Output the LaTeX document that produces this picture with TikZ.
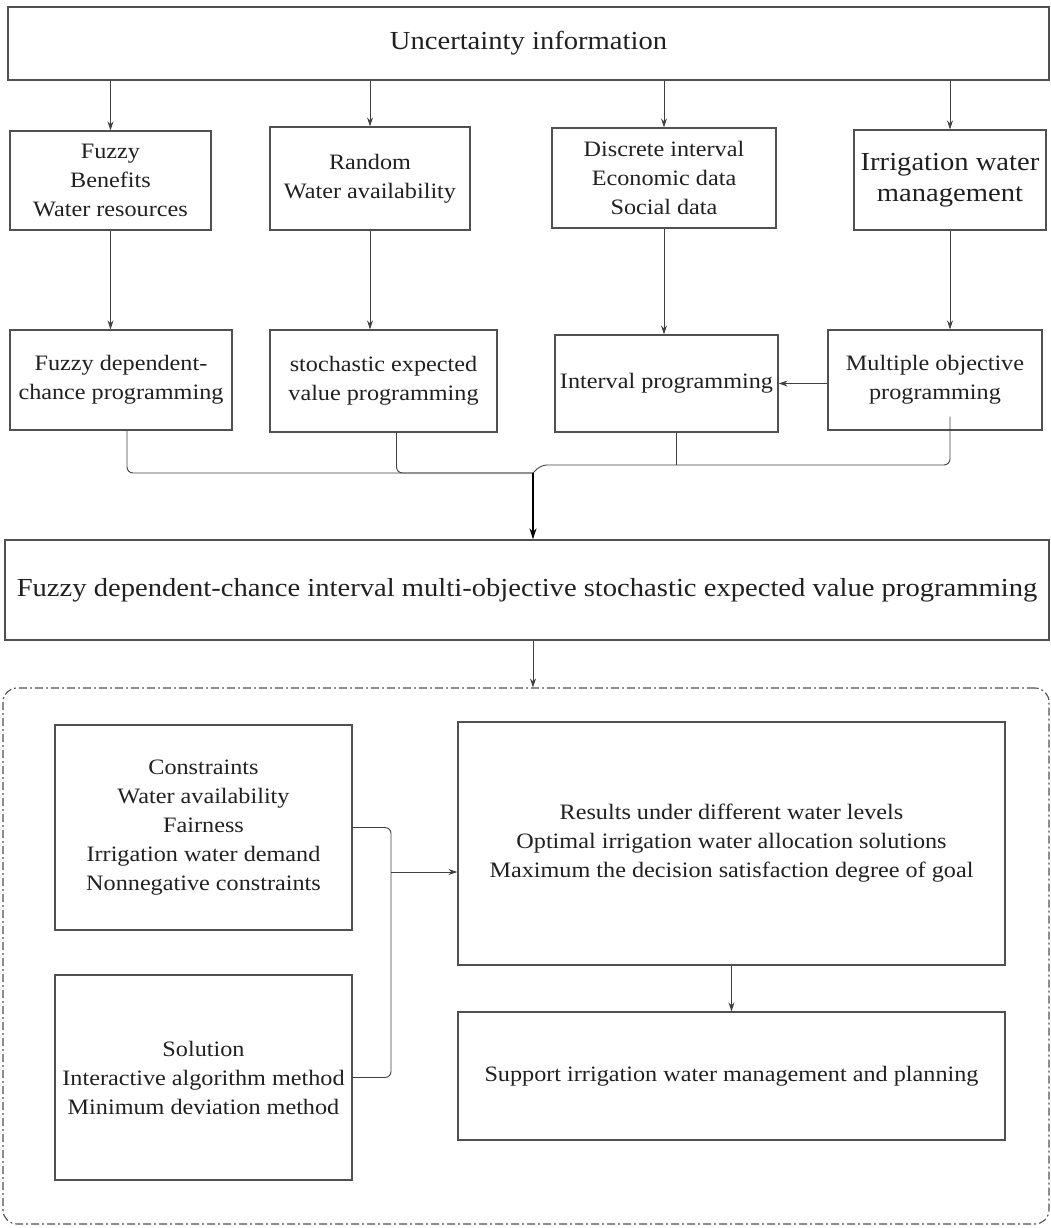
\documentclass[tikz,border=0pt]{standalone}
\usepackage{fontspec}
\setmainfont{Liberation Serif}[FakeStretch=1.1]
\usepackage{tikz}
\usetikzlibrary{arrows.meta,calc}
\definecolor{boxgray}{HTML}{505050}
\definecolor{linegray}{HTML}{404040}
\definecolor{txtgray}{HTML}{202020}

\begin{document}
\begin{tikzpicture}[x=1pt,y=-1pt,
  box/.style={draw=boxgray, line width=1.3pt, align=center, inner sep=0pt, text=txtgray,
    font=\fontsize{22}{29}\selectfont},
  bigbox/.style={box, font=\fontsize{26}{32}\selectfont},
  arr/.style={draw=linegray, line width=0.9pt, -{Stealth[length=9pt,width=6pt]}},
  conn/.style={draw=linegray, line width=0.9pt, rounded corners=6pt},
  mainarr/.style={draw=black, line width=1.5pt, -{Stealth[length=11pt,width=7pt]}}]
  \useasboundingbox (0,0) rectangle (1051,1228);

  % Source of uncertainty
  \node[bigbox, minimum width=1041pt, minimum height=73pt] (unc) at (528.5,43.5) {Uncertainty information};

  % Kinds of uncertainty
  \node[box, minimum width=201pt, minimum height=99pt] (fuz) at (110.5,180.5) {Fuzzy\\Benefits\\Water resources};
  \node[box, minimum width=200pt, minimum height=103pt] (ran) at (370,178.5) {Random\\Water availability};
  \node[box, minimum width=224pt, minimum height=100pt] (dis) at (664,178) {Discrete interval\\Economic data\\Social data};
  \node[box, minimum width=192pt, minimum height=100pt, font=\fontsize{26}{31}\selectfont] (irr) at (950,180) {Irrigation water\\management};

  \draw[arr] (unc.south -| fuz.north) -- (fuz.north);
  \draw[arr] (unc.south -| ran.north) -- (ran.north);
  \draw[arr] (unc.south -| dis.north) -- (dis.north);
  \draw[arr] (unc.south -| irr.north) -- (irr.north);

  % Programming methods
  \node[box, minimum width=222pt, minimum height=100pt] (fdc) at (121,380) {Fuzzy dependent-\\chance programming};
  \node[box, minimum width=227pt, minimum height=102pt] (sev) at (383.5,381) {stochastic expected\\value programming};
  \node[box, minimum width=223pt, minimum height=97pt] (ivp) at (666.5,383.5) {Interval programming};
  \node[box, minimum width=214pt, minimum height=100pt] (mop) at (935,380) {Multiple objective\\programming};

  \draw[arr] (fuz.south) -- (fuz.south |- fdc.north);
  \draw[arr] (ran.south) -- (ran.south |- sev.north);
  \draw[arr] (dis.south) -- (dis.south |- ivp.north);
  \draw[arr] (irr.south) -- (irr.south |- mop.north);
  \draw[arr] (mop.west |- ivp.east) -- (ivp.east);

  % Merging bracket
  \coordinate (mrg) at (533,473);
  \coordinate (mrgR) at (533,465);
  \draw[conn] ([xshift=6pt]fdc.south) |- (mrg);
  \draw[conn] ([xshift=13pt]sev.south) |- (mrg);
  \draw[conn] ([yshift=14pt]irr.south |- mop.south) |- ([xshift=8pt]mrgR) -- (mrg);
  \draw[conn] ([xshift=10pt]ivp.south) -- ([xshift=10pt]ivp.south |- mrgR);

  % Combined model
  \node[bigbox, minimum width=1044pt, minimum height=100pt] (mod) at (527,590)
    {Fuzzy dependent-chance interval multi-objective stochastic expected value programming};
  \draw[mainarr] (mrg) -- (mrg |- mod.north);

  % Solution frame
  \node[draw=boxgray, line width=1.1pt, rounded corners=14pt,
    dash pattern=on 8pt off 3pt on 2pt off 3pt,
    minimum width=1046pt, minimum height=536pt] (frm) at (526,956) {};
  \draw[arr] (mrg |- mod.south) -- (mrg |- frm.north);

  \node[box, minimum width=297pt, minimum height=205pt] (con) at (203.5,827.5)
    {Constraints\\Water availability\\Fairness\\Irrigation water demand\\Nonnegative constraints};
  \node[box, minimum width=297pt, minimum height=205pt] (sol) at (203.5,1077.5)
    {Solution\\Interactive algorithm method\\Minimum deviation method};
  \node[box, minimum width=547pt, minimum height=243pt] (res) at (731.5,843.5)
    {Results under different water levels\\Optimal irrigation water allocation solutions\\Maximum the decision satisfaction degree of goal};
  \node[box, minimum width=547pt, minimum height=128pt] (sup) at (731.5,1076)
    {Support irrigation water management and planning};

  % Right-hand bracket
  \coordinate (brk) at (391,872);
  \draw[conn] (con.east) -| (brk);
  \draw[conn] (sol.east) -| (brk);
  \draw[arr] (brk) -- (brk -| res.west);
  \draw[arr] (res.south) -- (sup.north);
\end{tikzpicture}
\end{document}
